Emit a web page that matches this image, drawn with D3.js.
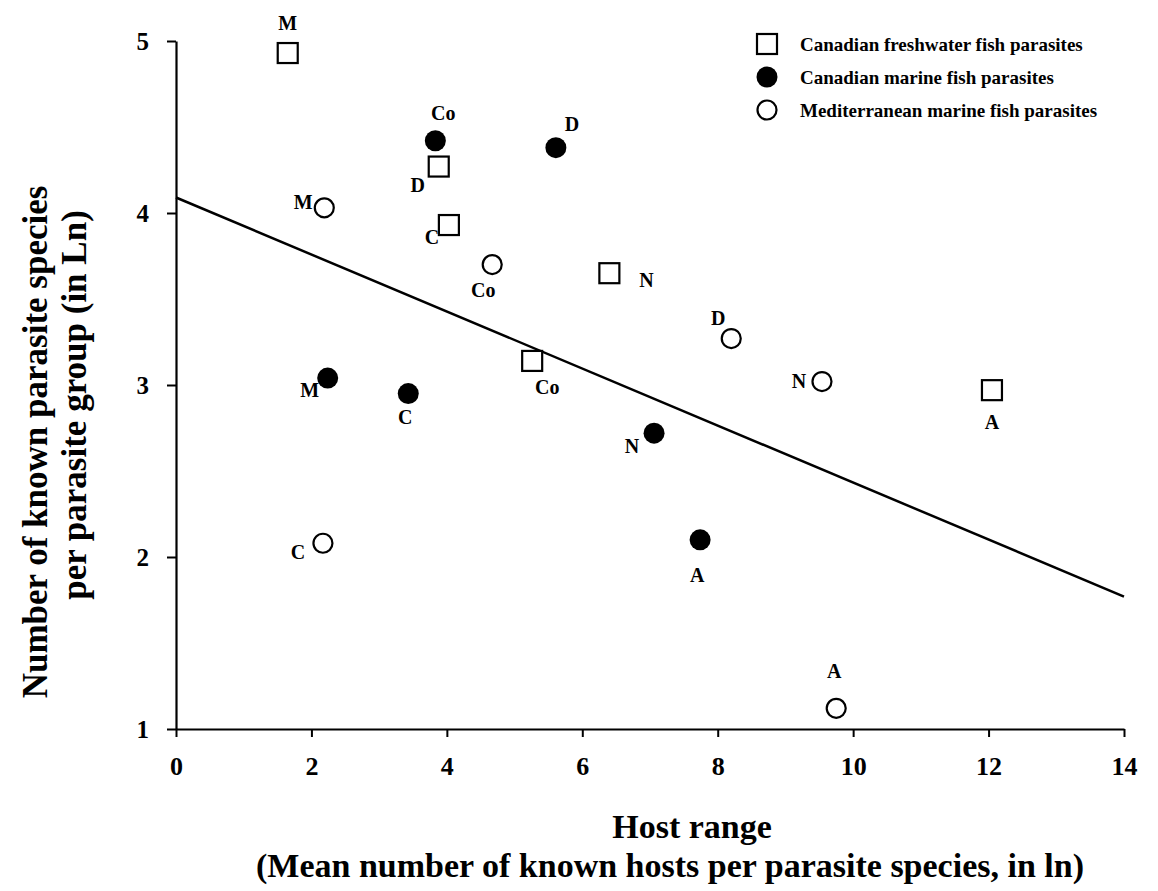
<!DOCTYPE html>
<html>
<head>
<meta charset="utf-8">
<script src="https://cdn.jsdelivr.net/npm/d3@7"></script>
<style>
  body { margin: 0; background: #fff; }
  svg text { font-family: 'Liberation Serif', 'Times New Roman', serif; font-weight: bold; fill: #000; }
</style>
</head>
<body>
<div id="chart"></div>
<script>
// ── Data ──────────────────────────────────────────────────────────────────
const groups = ['A', 'N', 'D', 'Co', 'C', 'M']
const freshwaterX = [12.05, 6.40, 3.88, 5.26, 4.03, 1.65]
const freshwaterY = [2.97, 3.65, 4.27, 3.14, 3.93, 4.93]
const marineX = [7.74, 7.06, 5.61, 3.83, 3.43, 2.24]
const marineY = [2.10, 2.72, 4.38, 4.42, 2.95, 3.04]
const mediterraneanX = [9.75, 9.54, 8.20, 4.67, 2.17, 2.19]
const mediterraneanY = [1.12, 3.02, 3.27, 3.70, 2.08, 4.03]
const regressionX = [0, 14]
const regressionY = [4.09, 1.77]
const xTicks = [0, 2, 4, 6, 8, 10, 12, 14]
const yTicks = [1, 2, 3, 4, 5]
const seriesNames = ['Canadian freshwater fish parasites', 'Canadian marine fish parasites', 'Mediterranean marine fish parasites']

// label placement (dx, dy from marker centre), layout only
const freshLabelPos = [[0, 32], [37, 7], [-21, 18], [15, 26], [-17, 12], [0, -30]]
const marineLabelPos = [[-3, 35], [-22, 13], [16, -24], [8, -28], [-3, 23], [-18, 12]]
const medLabelPos = [[-2, -37], [-23, -1], [-13, -21], [-9, 25], [-25, 9], [-21, -6]]

const W = 1158, H = 891
const MARGIN = { top: 41, left: 176, right: 34, bottom: 162 }

const svg = d3.select('#chart').append('svg').attr('width', W).attr('height', H)

const x = d3.scaleLinear().domain([0, 14]).range([MARGIN.left, W - MARGIN.right])
const y = d3.scaleLinear().domain([1, 5]).range([H - MARGIN.bottom, MARGIN.top])

// ── Axes ──────────────────────────────────────────────────────────────────
const xAxis = svg.append('g')
  .attr('transform', `translate(0,${y(1)})`)
  .call(d3.axisBottom(x).tickValues(xTicks).tickSize(8).tickSizeOuter(0).tickFormat(d3.format('d')))
const yAxis = svg.append('g')
  .attr('transform', `translate(${x(0)},0)`)
  .call(d3.axisLeft(y).tickValues(yTicks).tickSize(9).tickSizeOuter(0).tickFormat(d3.format('d')))

;[xAxis, yAxis].forEach(a => {
  a.select('.domain').attr('stroke', '#000').attr('stroke-width', 2.2)
  a.selectAll('.tick line').attr('stroke', '#000').attr('stroke-width', 2)
  a.selectAll('.tick text').attr('font-family', null)
})
xAxis.selectAll('.tick text').style('font-size', '26px').attr('dy', '1.35em')
yAxis.selectAll('.tick text').style('font-size', '25px').attr('x', -27)

// ── Regression line ───────────────────────────────────────────────────────
svg.append('line')
  .attr('x1', x(regressionX[0])).attr('y1', y(regressionY[0]))
  .attr('x2', x(regressionX[1])).attr('y2', y(regressionY[1]))
  .attr('stroke', '#000').attr('stroke-width', 2.5)

// ── Markers ───────────────────────────────────────────────────────────────
const SQ = 20
function drawSquare(g, cx, cy) {
  g.append('rect').attr('x', cx - SQ / 2).attr('y', cy - SQ / 2).attr('width', SQ).attr('height', SQ)
    .attr('fill', '#fff').attr('stroke', '#000').attr('stroke-width', 2.2)
}
function drawFilled(g, cx, cy) {
  g.append('circle').attr('cx', cx).attr('cy', cy).attr('r', 10.5).attr('fill', '#000')
}
function drawOpen(g, cx, cy) {
  g.append('circle').attr('cx', cx).attr('cy', cy).attr('r', 9.5).attr('fill', '#fff').attr('stroke', '#000').attr('stroke-width', 2.2)
}

const series = [
  { xs: freshwaterX, ys: freshwaterY, pos: freshLabelPos, draw: drawSquare },
  { xs: marineX, ys: marineY, pos: marineLabelPos, draw: drawFilled },
  { xs: mediterraneanX, ys: mediterraneanY, pos: medLabelPos, draw: drawOpen },
]

const pts = svg.append('g')
series.forEach(s => {
  groups.forEach((grp, i) => {
    const cx = x(s.xs[i]), cy = y(s.ys[i])
    s.draw(pts, cx, cy)
    pts.append('text')
      .attr('x', cx + s.pos[i][0]).attr('y', cy + s.pos[i][1])
      .attr('text-anchor', 'middle').attr('dominant-baseline', 'central')
      .style('font-size', '20px')
      .text(grp)
  })
})

// ── Legend ────────────────────────────────────────────────────────────────
const legend = svg.append('g').attr('transform', 'translate(767,44)')
const legendDraw = [drawSquare, drawFilled, drawOpen]
seriesNames.forEach((name, i) => {
  legendDraw[i](legend, 0, i * 33)
  legend.append('text').attr('x', 33).attr('y', i * 33).attr('dominant-baseline', 'central')
    .style('font-size', '19px').text(name)
})

// ── Axis titles ───────────────────────────────────────────────────────────
svg.append('text').attr('x', 692).attr('y', 838).attr('text-anchor', 'middle')
  .style('font-size', '34px').text('Host range')
svg.append('text').attr('x', 670).attr('y', 877).attr('text-anchor', 'middle')
  .style('font-size', '34px').text('(Mean number of known hosts per parasite species, in ln)')

const yTitle = svg.append('g').attr('transform', 'rotate(-90)')
yTitle.append('text').attr('x', -442).attr('y', 47).attr('text-anchor', 'middle')
  .style('font-size', '35px').text('Number of known parasite species')
yTitle.append('text').attr('x', -405).attr('y', 86).attr('text-anchor', 'middle')
  .style('font-size', '35px').text('per parasite group (in Ln)')
</script>
</body>
</html>
